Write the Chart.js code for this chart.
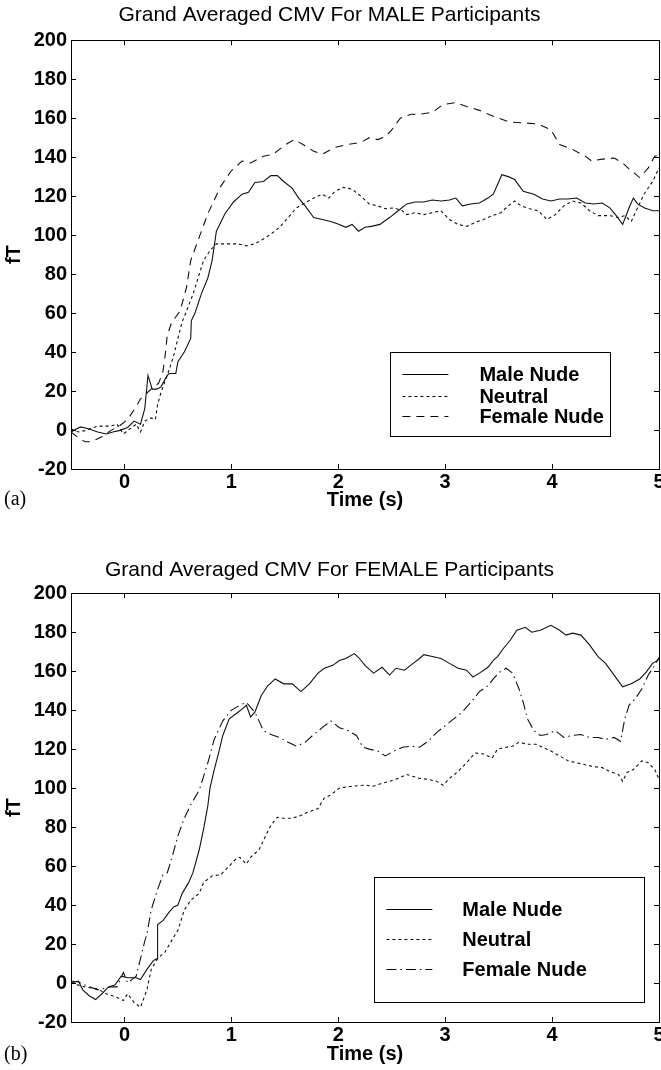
<!DOCTYPE html>
<html>
<head>
<meta charset="utf-8">
<title>Grand Averaged CMV</title>
<script src="https://cdn.jsdelivr.net/npm/chart.js@4.4.1/dist/chart.umd.min.js"></script>
<style>
  html, body { margin: 0; padding: 0; background: #fff; overflow: hidden; width: 661px; height: 1070px; }
  .panel { position: absolute; left: 0; }
  #pa { top: 0; }
  #pb { top: 530px; }
</style>
</head>
<body>
<div class="panel" id="pa"><canvas id="chartA" width="700" height="530"></canvas></div>
<div class="panel" id="pb"><canvas id="chartB" width="700" height="540"></canvas></div>
<script>
// axis ticks
const xTicks = [0, 1, 2, 3, 4, 5];
const yTicks = [-20, 0, 20, 40, 60, 80, 100, 120, 140, 160, 180, 200];
const seriesNames = ["Male Nude", "Neutral", "Female Nude"];

// (a) MALE participants -- [time s, fT]
const maleNudeA = [[-0.5,-1],[-0.45,0.5],[-0.41,1.6],[-0.33,0.5],[-0.25,-1],[-0.17,-2],[-0.11,-1],[-0.05,-0.3],[0.03,1.3],[0.09,4.6],[0.15,3],[0.19,11],[0.22,28],[0.26,21],[0.3,21],[0.34,22],[0.4,28],[0.42,29],[0.48,29],[0.5,35],[0.56,40],[0.62,47],[0.625,56],[0.66,60],[0.72,70],[0.78,78],[0.82,87],[0.86,102],[0.94,111],[1.02,117],[1.1,121],[1.16,122],[1.22,127],[1.3,127.5],[1.37,130.5],[1.43,130.5],[1.49,127.5],[1.57,124],[1.63,119],[1.69,115],[1.77,109],[1.85,108],[1.93,107],[2.01,105.5],[2.07,104],[2.13,105.5],[2.19,102],[2.25,104],[2.31,104.5],[2.39,105.5],[2.44,107.5],[2.48,109],[2.56,112.5],[2.64,116],[2.72,117],[2.8,117],[2.88,118],[2.96,117.5],[3.04,118],[3.1,119],[3.16,115],[3.24,116],[3.32,116.5],[3.4,119],[3.45,121],[3.49,126],[3.53,131],[3.59,130],[3.65,128.5],[3.73,122.5],[3.83,121],[3.91,118.5],[3.99,117.5],[4.07,118.5],[4.15,118.5],[4.23,119],[4.31,116.5],[4.39,116],[4.47,116.5],[4.54,114],[4.6,110],[4.66,105.5],[4.72,114],[4.76,119],[4.8,116],[4.86,114],[4.94,112.5],[5.0,112.5]];
const neutralA = [[-0.5,0.5],[-0.43,-1],[-0.37,-0.3],[-0.3,1],[-0.25,2],[-0.13,2],[-0.07,3],[-0.01,-2],[0.03,-0.3],[0.11,3],[0.15,-1],[0.19,4.6],[0.25,6.2],[0.29,5.4],[0.31,13],[0.34,19],[0.4,28],[0.46,38],[0.5,47],[0.54,55.5],[0.58,61],[0.64,69.5],[0.7,80],[0.74,87],[0.8,92],[0.86,95.5],[0.94,95.5],[1.06,95.5],[1.14,94.5],[1.22,95.5],[1.3,98],[1.37,100.5],[1.45,104],[1.53,109],[1.61,114],[1.69,116.5],[1.77,119],[1.85,121],[1.91,119],[1.97,122.5],[2.05,124.5],[2.13,123.5],[2.21,120],[2.29,116],[2.37,115],[2.44,113.5],[2.52,114],[2.6,112.5],[2.64,110.5],[2.72,111.5],[2.8,110.5],[2.88,111.5],[2.96,112.5],[3.04,108],[3.12,105.5],[3.2,104.5],[3.28,106.5],[3.36,108],[3.44,110],[3.52,111.5],[3.59,115],[3.65,117.5],[3.71,115],[3.79,113.5],[3.87,112.5],[3.95,108],[4.03,110.5],[4.11,115],[4.19,117.5],[4.27,116.5],[4.35,112.5],[4.43,110],[4.54,110],[4.62,109],[4.68,110],[4.74,107],[4.8,114],[4.86,121],[4.94,127.5],[5.0,134.5]];
const femaleNudeA = [[-0.5,-1],[-0.43,-4],[-0.37,-6],[-0.31,-6],[-0.21,-3.5],[-0.13,-0.3],[-0.05,2],[0.03,5.4],[0.11,12],[0.15,16],[0.21,19],[0.27,22],[0.32,24],[0.36,30],[0.38,38],[0.4,48.5],[0.44,55],[0.52,61],[0.58,73],[0.62,87],[0.7,99],[0.78,111],[0.9,125],[1.0,133],[1.1,138],[1.18,137],[1.3,140.5],[1.39,141.5],[1.51,146.5],[1.59,149],[1.67,146.5],[1.77,143],[1.85,141.5],[1.97,145],[2.09,146.5],[2.21,147.5],[2.29,150],[2.37,149],[2.44,150.5],[2.5,154],[2.58,160],[2.68,162],[2.76,162],[2.88,163],[2.98,167],[3.1,168],[3.2,166],[3.32,164],[3.45,161],[3.6,158],[3.75,157.5],[3.87,157],[3.99,154],[4.07,146.5],[4.19,144],[4.31,140.5],[4.37,138],[4.47,139],[4.58,139.5],[4.66,137],[4.74,133],[4.82,129.5],[4.9,134.5],[4.96,140.5],[5.0,141]];

// (b) FEMALE participants -- [time s, fT]
const maleNudeB = [[-0.5,0],[-0.43,1],[-0.39,-3.5],[-0.33,-6.5],[-0.27,-8.5],[-0.21,-5.5],[-0.15,-2],[-0.09,-1],[-0.03,3.5],[0.03,2.7],[0.11,2.7],[0.15,1.8],[0.21,7],[0.27,11.5],[0.305,12.5],[0.31,30],[0.36,32],[0.42,36.5],[0.46,39],[0.5,40],[0.54,46],[0.6,51.5],[0.64,56.5],[0.7,68.5],[0.74,79],[0.78,91],[0.8,100],[0.84,109.5],[0.88,118],[0.92,127],[0.98,135.5],[1.04,138],[1.1,140.5],[1.14,142.5],[1.18,136.5],[1.22,139],[1.28,147.5],[1.34,152.5],[1.41,156],[1.49,153.5],[1.57,153.5],[1.65,149.5],[1.73,153.5],[1.81,159],[1.87,161.5],[1.95,163],[2.01,165.5],[2.07,166.5],[2.15,169],[2.19,167],[2.25,163],[2.33,159],[2.41,162],[2.48,158],[2.54,161.5],[2.62,160.5],[2.7,164],[2.76,166.5],[2.8,168.5],[2.88,167.5],[2.96,166.5],[3.04,164],[3.12,161.5],[3.2,160.5],[3.26,157],[3.32,159],[3.4,162],[3.45,165.5],[3.49,167.5],[3.55,172],[3.61,176],[3.67,181],[3.75,182.5],[3.81,180],[3.89,181],[3.99,183.5],[4.07,181],[4.13,178.5],[4.19,179.5],[4.27,178.5],[4.35,173.5],[4.43,167.5],[4.5,164],[4.58,158],[4.66,152],[4.74,153.5],[4.82,156],[4.88,159.5],[4.94,164],[5.0,166]];
const neutralB = [[-0.5,0],[-0.37,-2],[-0.25,-3],[-0.17,-5.5],[-0.09,-7],[-0.01,-9],[0.03,-5.5],[0.09,-10],[0.15,-12.5],[0.21,-3.5],[0.25,7],[0.31,12.5],[0.38,16],[0.46,23.5],[0.5,27],[0.56,37.5],[0.62,42.5],[0.7,46],[0.74,51.5],[0.82,55],[0.9,55.5],[0.98,60],[1.04,63.5],[1.08,64.5],[1.14,61],[1.18,64.5],[1.26,68.5],[1.32,75.5],[1.37,81],[1.43,85],[1.49,84.5],[1.57,84.5],[1.65,86],[1.73,88],[1.81,89.5],[1.87,95],[1.93,96.5],[2.01,100],[2.13,101],[2.25,101.5],[2.33,101],[2.41,102.5],[2.48,103.5],[2.56,105],[2.64,107],[2.7,106],[2.76,105],[2.84,104.5],[2.92,103.5],[2.98,101.5],[3.04,105],[3.12,108.5],[3.2,113],[3.28,118],[3.36,117.5],[3.44,115.5],[3.49,120],[3.57,121],[3.63,121.5],[3.69,123.5],[3.77,122.5],[3.85,122.5],[3.91,121],[3.99,119],[4.07,116.5],[4.15,114],[4.23,113],[4.31,112],[4.39,111],[4.47,110.5],[4.54,108.5],[4.62,107],[4.66,103.5],[4.7,108],[4.76,109.5],[4.84,114],[4.9,113],[4.96,109.5],[5.0,104.5]];
const femaleNudeB = [[-0.5,1],[-0.43,0.5],[-0.37,-1],[-0.25,-3.5],[-0.13,-2],[-0.07,-2],[-0.01,5.4],[0.03,0],[0.11,3.5],[0.15,12.5],[0.19,21.5],[0.21,25],[0.25,37.5],[0.31,48],[0.36,55.5],[0.4,56.5],[0.44,63.5],[0.5,75.5],[0.56,84.5],[0.62,91.5],[0.7,99],[0.78,113],[0.84,125],[0.92,134.5],[1.0,140],[1.08,142.5],[1.14,144],[1.22,139],[1.3,129.5],[1.37,127.5],[1.45,126],[1.53,123.5],[1.61,121.5],[1.69,123.5],[1.77,127.5],[1.85,131],[1.93,134.5],[2.01,131],[2.09,129.5],[2.17,127],[2.23,121],[2.29,120],[2.37,119],[2.44,116.5],[2.52,119],[2.6,121],[2.68,121.5],[2.76,121],[2.84,124],[2.92,128.5],[3.0,132],[3.08,135.5],[3.16,139],[3.24,144],[3.32,149.5],[3.4,152.5],[3.45,156],[3.51,159.5],[3.57,161.5],[3.63,159],[3.69,151],[3.73,144],[3.77,135.5],[3.83,129.5],[3.89,127],[3.95,127.5],[4.03,129.5],[4.11,126],[4.19,127],[4.27,127.5],[4.35,126],[4.43,126],[4.5,125],[4.58,126],[4.64,124],[4.68,135.5],[4.72,142.5],[4.78,146],[4.84,151],[4.9,158],[4.96,163],[5.0,167]];

const FONT = '"Liberation Sans", Arial, Helvetica, sans-serif';

// box + inward tick marks on all four sides, like the original plot
const framePlugin = {
    id: "frame",
    afterDatasetsDraw(chart) {
        const { ctx, chartArea: a, scales: { x, y } } = chart;
        ctx.save();
        ctx.strokeStyle = "#000";
        ctx.lineWidth = 1;
        ctx.strokeRect(Math.round(a.left) + 0.5, Math.round(a.top) + 0.5,
            Math.round(a.width), Math.round(a.height));
        ctx.beginPath();
        x.ticks.forEach(t => {
            const px = Math.round(x.getPixelForValue(t.value)) + 0.5;
            ctx.moveTo(px, a.bottom); ctx.lineTo(px, a.bottom - 5);
            ctx.moveTo(px, a.top); ctx.lineTo(px, a.top + 5);
        });
        y.ticks.forEach(t => {
            const py = Math.round(y.getPixelForValue(t.value)) + 0.5;
            ctx.moveTo(a.left, py); ctx.lineTo(a.left + 5, py);
            ctx.moveTo(a.right, py); ctx.lineTo(a.right - 5, py);
        });
        ctx.stroke();
        ctx.restore();
    }
};

// legend drawn inside the plot, placed in data units
const boxLegendPlugin = {
    id: "boxLegend",
    afterDatasetsDraw(chart, args, opts) {
        const { ctx, scales: { x, y } } = chart;
        const L = Math.round(x.getPixelForValue(opts.box[0])) + 0.5;
        const R = Math.round(x.getPixelForValue(opts.box[2])) + 0.5;
        const T = Math.round(y.getPixelForValue(opts.box[1])) + 0.5;
        const B = Math.round(y.getPixelForValue(opts.box[3])) + 0.5;
        ctx.save();
        ctx.fillStyle = "#fff";
        ctx.fillRect(L, T, R - L, B - T);
        ctx.strokeStyle = "#000";
        ctx.lineWidth = 1;
        ctx.strokeRect(L, T, R - L, B - T);
        ctx.font = "bold 20px " + FONT;
        ctx.fillStyle = "#000";
        ctx.textBaseline = "middle";
        chart.data.datasets.forEach((ds, i) => {
            const yy = Math.round(y.getPixelForValue(opts.rows[i])) + 0.5;
            ctx.setLineDash(ds.borderDash || []);
            ctx.beginPath();
            ctx.moveTo(x.getPixelForValue(opts.line[0]), yy);
            ctx.lineTo(x.getPixelForValue(opts.line[1]), yy);
            ctx.stroke();
            ctx.setLineDash([]);
            ctx.fillText(ds.label, x.getPixelForValue(opts.textX), yy + 1);
        });
        ctx.restore();
    }
};

// panel letter "(a)" / "(b)"
const letterPlugin = {
    id: "letter",
    afterDraw(chart, args, opts) {
        const ctx = chart.ctx;
        ctx.save();
        ctx.font = '20px "Liberation Serif", "Times New Roman", serif';
        ctx.fillStyle = "#000";
        ctx.textBaseline = "middle";
        ctx.fillText(opts.text, opts.x, opts.y);
        ctx.restore();
    }
};

function lineSet(label, points, dash) {
    return {
        label: label,
        data: points.map(p => ({ x: p[0], y: p[1] })),
        borderColor: "#111",
        borderWidth: 1.1,
        borderDash: dash,
        pointRadius: 0,
        tension: 0,
        fill: false
    };
}

function makeChart(id, cfg) {
    const ctx = document.getElementById(id).getContext("2d");
    return new Chart(ctx, {
        type: "line",
        data: {
            datasets: [
                lineSet(seriesNames[0], cfg.series[0], []),
                lineSet(seriesNames[1], cfg.series[1], [3, 3]),
                lineSet(seriesNames[2], cfg.series[2], cfg.femaleDash)
            ]
        },
        options: {
            responsive: false,
            animation: false,
            layout: { padding: { right: 41, left: 0, top: 0, bottom: 0 } },
            plugins: {
                legend: { display: false },
                tooltip: { enabled: false },
                title: {
                    display: true,
                    text: cfg.title,
                    color: "#000",
                    font: { family: FONT, size: 21, weight: "normal" },
                    padding: cfg.titlePad
                },
                boxLegend: cfg.legend,
                letter: cfg.letter
            },
            scales: {
                x: {
                    type: "linear",
                    min: -0.5,
                    max: 5,
                    afterBuildTicks: s => { s.ticks = xTicks.map(v => ({ value: v })); },
                    afterFit: s => { s.height = cfg.xHeight; },
                    grid: { display: false, drawTicks: false },
                    border: { display: false },
                    ticks: {
                        color: "#000",
                        padding: 1,
                        maxRotation: 0,
                        font: { family: FONT, size: 20, weight: "bold" }
                    },
                    title: {
                        display: true,
                        text: "Time (s)",
                        color: "#000",
                        font: { family: FONT, size: 20, weight: "bold" },
                        padding: { top: 0, bottom: cfg.timePad }
                    }
                },
                y: {
                    min: -20,
                    max: 200,
                    afterBuildTicks: s => { s.ticks = yTicks.map(v => ({ value: v })); },
                    afterFit: s => { s.width = 71; },
                    grid: { display: false, drawTicks: false },
                    border: { display: false },
                    ticks: {
                        color: "#000",
                        padding: 4,
                        font: { family: FONT, size: 20, weight: "bold" }
                    },
                    title: {
                        display: true,
                        text: "fT",
                        color: "#000",
                        font: { family: FONT, size: 20, weight: "bold" },
                        padding: { top: 2, bottom: 0 }
                    }
                }
            }
        },
        plugins: [framePlugin, boxLegendPlugin, letterPlugin]
    });
}

makeChart("chartA", {
    title: "Grand Averaged CMV For MALE Participants",
    series: [maleNudeA, neutralA, femaleNudeA],
    femaleDash: [8, 6],
    titlePad: { top: 3, bottom: 12 },
    xHeight: 61,
    timePad: 18,
    legend: { box: [2.48, 40, 4.54, -3], rows: [28.5, 17.5, 7], line: [2.6, 3.03], textX: 3.32 },
    letter: { text: "(a)", x: 4, y: 500 }
});

makeChart("chartB", {
    title: "Grand Averaged CMV For FEMALE Participants",
    series: [maleNudeB, neutralB, femaleNudeB],
    femaleDash: [10, 4, 1.5, 4],
    titlePad: { top: 28, bottom: 10 },
    xHeight: 48,
    timePad: 4,
    legend: { box: [2.33, 54.5, 4.86, -9.5], rows: [38, 22.5, 7], line: [2.45, 2.88], textX: 3.16 },
    letter: { text: "(b)", x: 4, y: 525 }
});
</script>
</body>
</html>
